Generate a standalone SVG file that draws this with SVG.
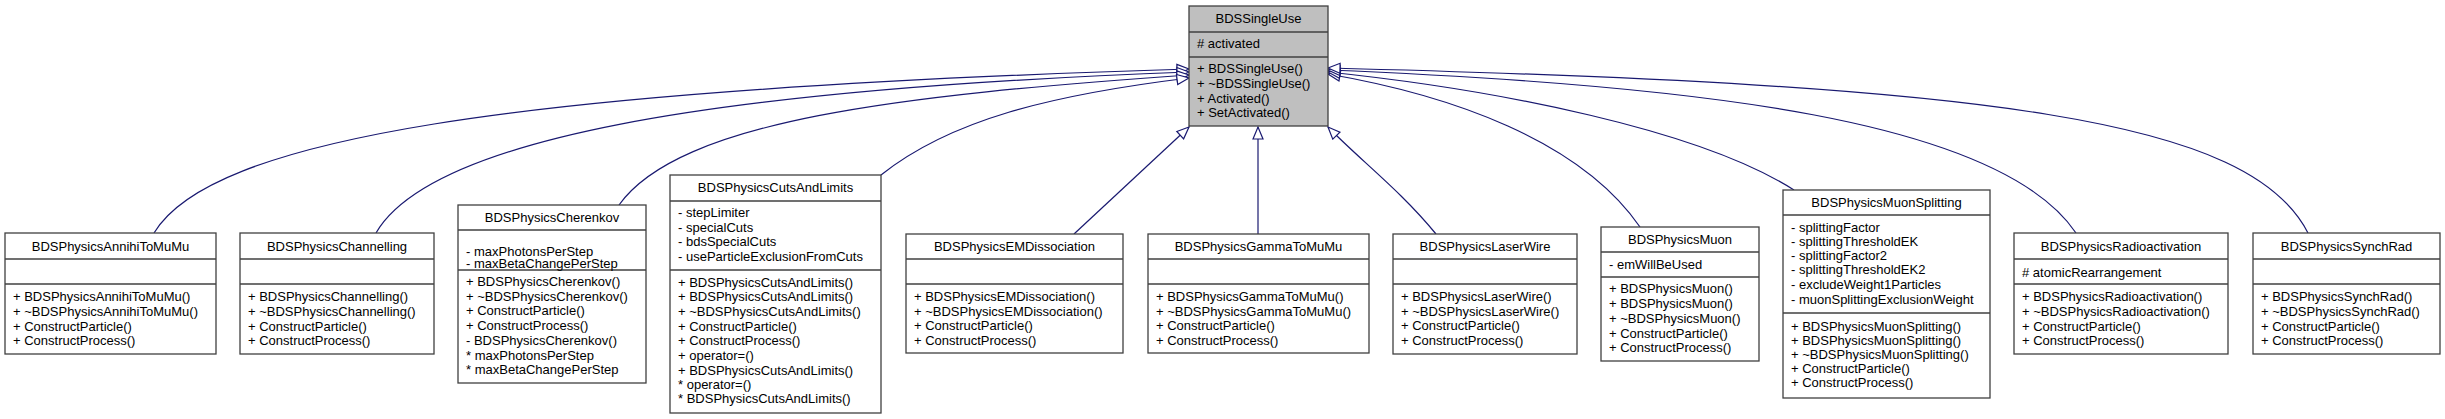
<svg xmlns="http://www.w3.org/2000/svg" width="2445" height="419" viewBox="0 0 2445 419">
<style>
text{font-family:"Liberation Sans",Arial,sans-serif;font-size:13px;fill:#000;dominant-baseline:central}
.t{text-anchor:middle}
rect{fill:#fff;stroke:#404040;stroke-width:1.3}
rect.base{fill:#bfbfbf}
line.s{stroke:#404040;stroke-width:1.3}
.e{fill:none;stroke:#191970;stroke-width:1.2;marker-end:url(#tri)}
</style>
<defs>
<marker id="tri" markerUnits="userSpaceOnUse" markerWidth="16" markerHeight="14" refX="13" refY="6" orient="auto">
<path d="M1,1 L13,6 L1,11 Z" fill="#fff" stroke="#191970" stroke-width="1.2"/>
</marker>
</defs>
<g id="connectors">
<path class="e" d="M154,233 C210,140 500,90 1189,69"/>
<path class="e" d="M376,233 C430,140 700,90 1189,72"/>
<path class="e" d="M619,205 C680,120 900,95 1189,75"/>
<path class="e" d="M881,175 C950,120 1050,95 1189,78"/>
<path class="e" d="M1074,234 L1189,127"/>
<path class="e" d="M1258,234 L1258,127"/>
<path class="e" d="M1436,234 C1400,190 1360,160 1328,127"/>
<path class="e" d="M1640,227 C1580,140 1450,95 1328,74"/>
<path class="e" d="M1794,190 C1700,130 1500,90 1328,72"/>
<path class="e" d="M2076,233 C2000,120 1700,85 1328,70"/>
<path class="e" d="M2308,233 C2250,120 2000,85 1328,68"/>
</g>
<g id="BDSSingleUse">
<rect class="base" x="1189" y="6" width="139" height="120"/>
<line class="s" x1="1189" y1="32" x2="1328" y2="32"/><line class="s" x1="1189" y1="57" x2="1328" y2="57"/>
<text class="t" x="1258.5" y="18">BDSSingleUse</text>
<text x="1197" y="43"># activated</text>
<text x="1197" y="68">+ BDSSingleUse()</text>
<text x="1197" y="83">+ ~BDSSingleUse()</text>
<text x="1197" y="98">+ Activated()</text>
<text x="1197" y="112">+ SetActivated()</text>
</g>
<g id="AnnihiToMuMu">
<rect x="5" y="233" width="211" height="121"/>
<line class="s" x1="5" y1="259" x2="216" y2="259"/><line class="s" x1="5" y1="284" x2="216" y2="284"/>
<text class="t" x="110.5" y="246">BDSPhysicsAnnihiToMuMu</text>
<text x="13" y="296">+ BDSPhysicsAnnihiToMuMu()</text>
<text x="13" y="311">+ ~BDSPhysicsAnnihiToMuMu()</text>
<text x="13" y="326">+ ConstructParticle()</text>
<text x="13" y="340">+ ConstructProcess()</text>
</g>
<g id="Channelling">
<rect x="240" y="233" width="194" height="121"/>
<line class="s" x1="240" y1="259" x2="434" y2="259"/><line class="s" x1="240" y1="284" x2="434" y2="284"/>
<text class="t" x="337" y="246">BDSPhysicsChannelling</text>
<text x="248" y="296">+ BDSPhysicsChannelling()</text>
<text x="248" y="311">+ ~BDSPhysicsChannelling()</text>
<text x="248" y="326">+ ConstructParticle()</text>
<text x="248" y="340">+ ConstructProcess()</text>
</g>
<g id="Cherenkov">
<rect x="458" y="205" width="188" height="178"/>
<line class="s" x1="458" y1="230" x2="646" y2="230"/><line class="s" x1="458" y1="270" x2="646" y2="270"/>
<text class="t" x="552" y="217">BDSPhysicsCherenkov</text>
<text x="466" y="251">- maxPhotonsPerStep</text>
<text x="466" y="266" dy="-3">- maxBetaChangePerStep</text>
<text x="466" y="281">+ BDSPhysicsCherenkov()</text>
<text x="466" y="296">+ ~BDSPhysicsCherenkov()</text>
<text x="466" y="310">+ ConstructParticle()</text>
<text x="466" y="325">+ ConstructProcess()</text>
<text x="466" y="340">- BDSPhysicsCherenkov()</text>
<text x="466" y="355">* maxPhotonsPerStep</text>
<text x="466" y="369">* maxBetaChangePerStep</text>
</g>
<g id="CutsAndLimits">
<rect x="670" y="175" width="211" height="238"/>
<line class="s" x1="670" y1="201" x2="881" y2="201"/><line class="s" x1="670" y1="270" x2="881" y2="270"/>
<text class="t" x="775.5" y="187">BDSPhysicsCutsAndLimits</text>
<text x="678" y="212">- stepLimiter</text>
<text x="678" y="227">- specialCuts</text>
<text x="678" y="241">- bdsSpecialCuts</text>
<text x="678" y="256">- useParticleExclusionFromCuts</text>
<text x="678" y="282">+ BDSPhysicsCutsAndLimits()</text>
<text x="678" y="296">+ BDSPhysicsCutsAndLimits()</text>
<text x="678" y="311">+ ~BDSPhysicsCutsAndLimits()</text>
<text x="678" y="326">+ ConstructParticle()</text>
<text x="678" y="340">+ ConstructProcess()</text>
<text x="678" y="355">+ operator=()</text>
<text x="678" y="370">+ BDSPhysicsCutsAndLimits()</text>
<text x="678" y="384">* operator=()</text>
<text x="678" y="398">* BDSPhysicsCutsAndLimits()</text>
</g>
<g id="EMDissociation">
<rect x="906" y="234" width="217" height="119"/>
<line class="s" x1="906" y1="259" x2="1123" y2="259"/><line class="s" x1="906" y1="284" x2="1123" y2="284"/>
<text class="t" x="1014.5" y="246">BDSPhysicsEMDissociation</text>
<text x="914" y="296">+ BDSPhysicsEMDissociation()</text>
<text x="914" y="311">+ ~BDSPhysicsEMDissociation()</text>
<text x="914" y="325">+ ConstructParticle()</text>
<text x="914" y="340">+ ConstructProcess()</text>
</g>
<g id="GammaToMuMu">
<rect x="1148" y="234" width="221" height="119"/>
<line class="s" x1="1148" y1="259" x2="1369" y2="259"/><line class="s" x1="1148" y1="284" x2="1369" y2="284"/>
<text class="t" x="1258.5" y="246">BDSPhysicsGammaToMuMu</text>
<text x="1156" y="296">+ BDSPhysicsGammaToMuMu()</text>
<text x="1156" y="311">+ ~BDSPhysicsGammaToMuMu()</text>
<text x="1156" y="325">+ ConstructParticle()</text>
<text x="1156" y="340">+ ConstructProcess()</text>
</g>
<g id="LaserWire">
<rect x="1393" y="234" width="184" height="120"/>
<line class="s" x1="1393" y1="259" x2="1577" y2="259"/><line class="s" x1="1393" y1="284" x2="1577" y2="284"/>
<text class="t" x="1485" y="246">BDSPhysicsLaserWire</text>
<text x="1401" y="296">+ BDSPhysicsLaserWire()</text>
<text x="1401" y="311">+ ~BDSPhysicsLaserWire()</text>
<text x="1401" y="325">+ ConstructParticle()</text>
<text x="1401" y="340">+ ConstructProcess()</text>
</g>
<g id="Muon">
<rect x="1601" y="227" width="158" height="134"/>
<line class="s" x1="1601" y1="252" x2="1759" y2="252"/><line class="s" x1="1601" y1="277" x2="1759" y2="277"/>
<text class="t" x="1680" y="239">BDSPhysicsMuon</text>
<text x="1609" y="264">- emWillBeUsed</text>
<text x="1609" y="288">+ BDSPhysicsMuon()</text>
<text x="1609" y="303">+ BDSPhysicsMuon()</text>
<text x="1609" y="318">+ ~BDSPhysicsMuon()</text>
<text x="1609" y="333">+ ConstructParticle()</text>
<text x="1609" y="347">+ ConstructProcess()</text>
</g>
<g id="MuonSplitting">
<rect x="1783" y="190" width="207" height="208"/>
<line class="s" x1="1783" y1="215" x2="1990" y2="215"/><line class="s" x1="1783" y1="313" x2="1990" y2="313"/>
<text class="t" x="1886.5" y="202">BDSPhysicsMuonSplitting</text>
<text x="1791" y="227">- splittingFactor</text>
<text x="1791" y="241">- splittingThresholdEK</text>
<text x="1791" y="255">- splittingFactor2</text>
<text x="1791" y="269">- splittingThresholdEK2</text>
<text x="1791" y="284">- excludeWeight1Particles</text>
<text x="1791" y="299">- muonSplittingExclusionWeight</text>
<text x="1791" y="326">+ BDSPhysicsMuonSplitting()</text>
<text x="1791" y="340">+ BDSPhysicsMuonSplitting()</text>
<text x="1791" y="354">+ ~BDSPhysicsMuonSplitting()</text>
<text x="1791" y="368">+ ConstructParticle()</text>
<text x="1791" y="382">+ ConstructProcess()</text>
</g>
<g id="Radioactivation">
<rect x="2014" y="233" width="214" height="121"/>
<line class="s" x1="2014" y1="259" x2="2228" y2="259"/><line class="s" x1="2014" y1="284" x2="2228" y2="284"/>
<text class="t" x="2121" y="246">BDSPhysicsRadioactivation</text>
<text x="2022" y="272"># atomicRearrangement</text>
<text x="2022" y="296">+ BDSPhysicsRadioactivation()</text>
<text x="2022" y="311">+ ~BDSPhysicsRadioactivation()</text>
<text x="2022" y="326">+ ConstructParticle()</text>
<text x="2022" y="340">+ ConstructProcess()</text>
</g>
<g id="SynchRad">
<rect x="2253" y="233" width="187" height="121"/>
<line class="s" x1="2253" y1="259" x2="2440" y2="259"/><line class="s" x1="2253" y1="284" x2="2440" y2="284"/>
<text class="t" x="2346.5" y="246">BDSPhysicsSynchRad</text>
<text x="2261" y="296">+ BDSPhysicsSynchRad()</text>
<text x="2261" y="311">+ ~BDSPhysicsSynchRad()</text>
<text x="2261" y="326">+ ConstructParticle()</text>
<text x="2261" y="340">+ ConstructProcess()</text>
</g>
</svg>
